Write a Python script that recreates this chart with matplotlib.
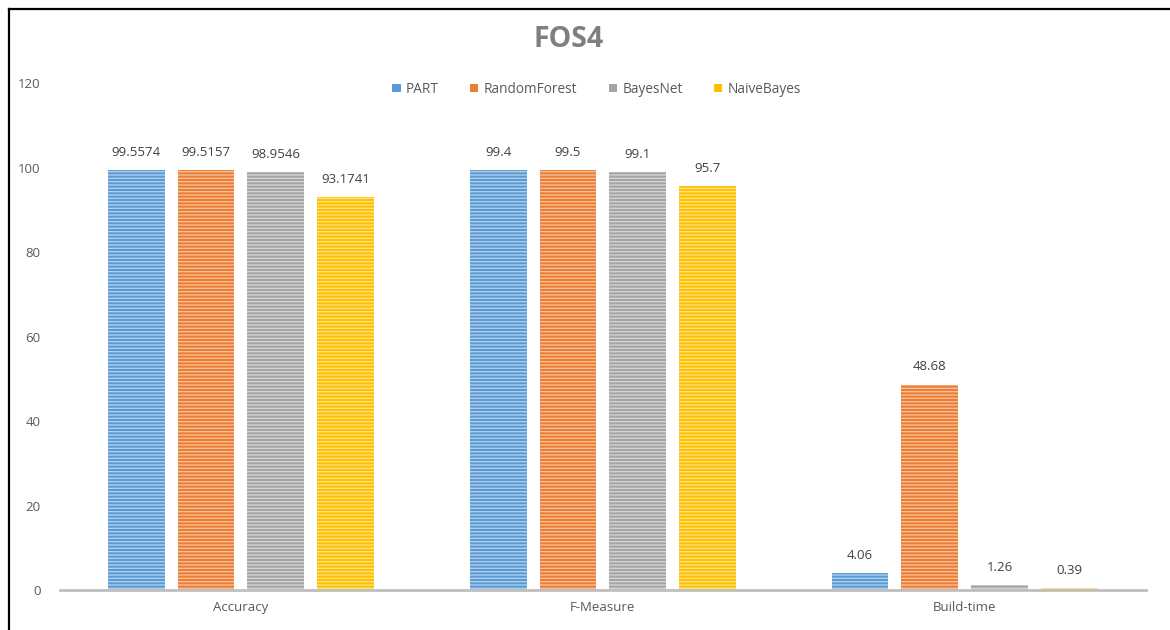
import numpy as np
import matplotlib.pyplot as plt
from matplotlib.lines import Line2D
from matplotlib.patches import Patch
from matplotlib.colors import to_rgb

plt.rcParams['font.family'] = ['Open Sans', 'DejaVu Sans']
plt.rcParams['hatch.linewidth'] = 0.9

categories = ['Accuracy', 'F-Measure', 'Build-time']
models = ['PART', 'RandomForest', 'BayesNet', 'NaiveBayes']
part = [99.5574, 99.4, 4.06]
random_forest = [99.5157, 99.5, 48.68]
bayes_net = [98.9546, 99.1, 1.26]
naive_bayes = [93.1741, 95.7, 0.39]
series = [part, random_forest, bayes_net, naive_bayes]
colors = ['#5B9BD5', '#ED7D31', '#A5A5A5', '#FFC000']


def lighten(c, amt=0.55):
    r, g, b = to_rgb(c)
    return (r + (1 - r) * amt, g + (1 - g) * amt, b + (1 - b) * amt)


fig = plt.figure(figsize=(11.7, 6.3), dpi=100)
ax = fig.add_axes([0.0513, 0.0635, 0.928, 0.804])

x = np.arange(len(categories))
step = 0.193
width = 0.157
for i, (vals, c) in enumerate(zip(series, colors)):
    pos = x + (i - 1.5) * step
    bars = ax.bar(pos, vals, width, color=c, edgecolor=lighten(c), linewidth=0,
                  hatch='-----')
    for b, v in zip(bars, vals):
        ax.annotate(f'{v:g}', (b.get_x() + b.get_width() / 2, v),
                    xytext=(0, 8), textcoords='offset points',
                    ha='center', va='bottom', fontsize=9.5, color='#404040')

ax.set_xlim(-0.5, 2.5)
ax.set_ylim(0, 120)
ax.set_yticks(range(0, 121, 20))
ax.set_xticks(x)
ax.set_xticklabels(categories)
ax.tick_params(axis='both', length=0, labelsize=9.5, labelcolor='#595959')
ax.tick_params(axis='y', pad=14)
ax.tick_params(axis='x', pad=8)
for s in ['top', 'right', 'left']:
    ax.spines[s].set_visible(False)
ax.spines['bottom'].set_color('#BFBFBF')
ax.spines['bottom'].set_linewidth(2)

fig.text(0.486, 0.937, 'FOS4', ha='center', va='center', fontsize=20.5,
         fontweight='bold', color='#7F7F7F')

handles = [Patch(facecolor=c, edgecolor='none') for c in colors]
fig.legend(handles, models, loc='center', bbox_to_anchor=(0.51, 0.858), ncol=4,
           frameon=False, fontsize=9.8, handlelength=0.6, handleheight=0.6,
           handletextpad=0.4, columnspacing=2.3, labelcolor='#595959')

# frame lines along the top and left edges
fig.add_artist(Line2D([9 / 1170, 1], [1 - 9 / 630, 1 - 9 / 630], color='black',
                      linewidth=1.6, transform=fig.transFigure))
fig.add_artist(Line2D([9 / 1170, 9 / 1170], [0, 1 - 9 / 630], color='black',
                      linewidth=1.6, transform=fig.transFigure))

fig.savefig('out.png', dpi=100)
